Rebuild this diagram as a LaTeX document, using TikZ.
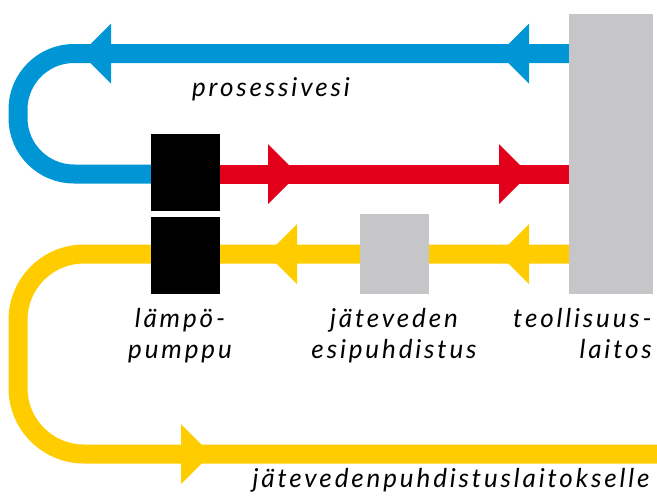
\documentclass[tikz,border=0pt]{standalone}
\usepackage{fontspec}
\setmainfont{Lato}[LetterSpace=11]
\definecolor{flowblue}{RGB}{0,150,214}
\definecolor{flowred}{RGB}{226,0,26}
\definecolor{flowyellow}{RGB}{255,204,0}
\definecolor{plantgray}{RGB}{198,198,200}
\begin{document}
\begin{tikzpicture}[x=1pt,y=-1pt,
  pipe/.style={line width=19pt},
  unitbox/.style={fill=black,inner sep=0pt,minimum width=69pt},
  plantbox/.style={fill=plantgray,inner sep=0pt},
  caption/.style={font=\fontsize{26}{31}\selectfont\itshape,inner sep=0pt,text=black},
  headleft/.pic={\fill (-15,0) -- (15,-30) -- (15,30) -- cycle;},
  headright/.pic={\fill (15,0) -- (-15,-30) -- (-15,30) -- cycle;}]
\useasboundingbox (0,0) rectangle (657,499);

% units
\node[plantbox,minimum width=84pt,minimum height=280pt] (plant) at (611,154) {};
\node[plantbox,minimum width=69pt,minimum height=80pt] (pre) at (394.5,254) {};
\node[unitbox,minimum height=77pt] (hpa) at (185.5,172.5) {};
\node[unitbox,minimum height=77pt] (hpb) at (185.5,255.5) {};

% loop corners and the outlet
\coordinate (bt) at (18,53.5);
\coordinate (bb) at (18,174);
\coordinate (yt) at (18,254);
\coordinate (yb) at (18,454);
\coordinate (out) at (657,454);

% process water loop (blue)
\draw[pipe,flowblue,rounded corners=56pt]
  (plant.west |- bt) -- (bt) -- (bb) -- (hpa.west |- bb);
% heated water (red)
\draw[pipe,flowred] (hpa.east |- bb) -- (plant.west |- bb);
% waste water (yellow)
\draw[pipe,flowyellow,rounded corners=66pt]
  (plant.west |- yt) -- (yt) -- (yb) -- (out);

% redraw the boxes over the pipes
\node[plantbox,minimum width=84pt,minimum height=280pt] at (plant) {};
\node[plantbox,minimum width=69pt,minimum height=80pt] at (pre) {};
\node[unitbox,minimum height=77pt] at (hpa) {};
\node[unitbox,minimum height=77pt] at (hpb) {};

% flow direction heads
\pic[flowblue] at (96,53.5) {headleft};
\pic[flowblue] at (514,53.5) {headleft};
\pic[flowred] at (283,174) {headright};
\pic[flowred] at (514,174) {headright};
\pic[flowyellow] at (282,254) {headleft};
\pic[flowyellow] at (514,254) {headleft};
\pic[flowyellow] at (196,454) {headright};

% captions (two-line nodes sit on the baseline of their last line)
\node[caption,anchor=base] (t1) at (271,96.5) {prosessivesi};
\node[caption,anchor=base,align=center] (t2) at (180,358) {lämpö-\\pumppu};
\node[caption,anchor=base,align=center] (t3) at (394,358) {jäteveden\\esipuhdistus};
\node[caption,anchor=base east,align=right] (t4) at (652,358) {teollisuus-\\laitos};
\node[caption,anchor=base] (t5) at (451,487) {jätevedenpuhdistuslaitokselle};
\end{tikzpicture}
\end{document}
